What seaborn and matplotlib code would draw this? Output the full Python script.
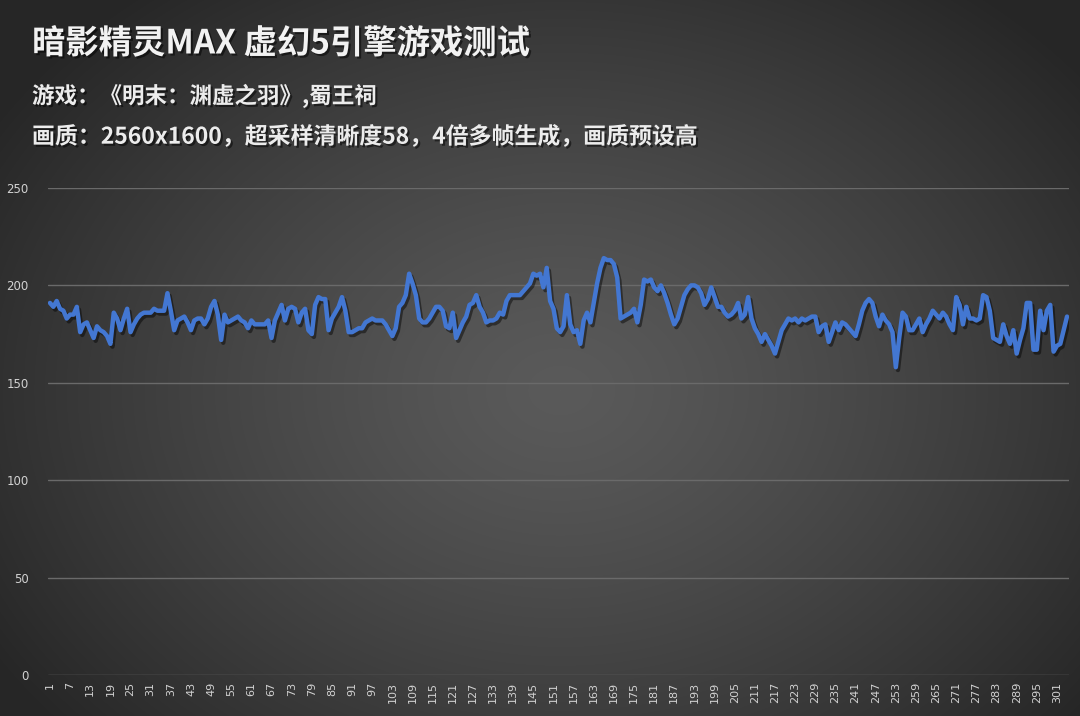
import numpy as np
import pandas as pd
import matplotlib
matplotlib.use("Agg")
import matplotlib.pyplot as plt
import matplotlib.patheffects as pe
import seaborn as sns

title = "暗影精灵MAX 虚幻5引擎游戏测试"
subtitle1 = "游戏：《明末：渊虚之羽》,蜀王祠"
subtitle2 = "画质：2560x1600，超采样清晰度58，4倍多帧生成，画质预设高"

fps_1_50 = [191, 189, 192, 188, 187, 183, 185, 185, 189, 176,
            180, 181, 177, 173, 179, 177, 176, 174, 170, 186,
            183, 177, 183, 188, 176, 180, 183, 185, 186, 186,
            186, 188, 187, 187, 187, 196, 187, 177, 182, 183,
            184, 181, 177, 182, 183, 183, 180, 183, 189, 192]
fps_51_100 = [185, 172, 185, 181, 182, 183, 184, 182, 181, 178,
              182, 180, 180, 180, 180, 182, 173, 182, 186, 190,
              182, 188, 189, 188, 181, 186, 188, 177, 175, 190,
              194, 193, 193, 177, 183, 186, 189, 194, 187, 176,
              176, 177, 178, 178, 181, 182, 183, 182, 182, 182]
fps_101_150 = [180, 177, 174, 178, 189, 191, 195, 206, 201, 195,
               183, 181, 181, 183, 186, 189, 189, 187, 179, 178,
               186, 173, 177, 181, 184, 190, 191, 195, 189, 186,
               181, 182, 182, 183, 186, 185, 192, 195, 195, 195,
               195, 197, 199, 201, 206, 205, 206, 199, 209, 192]
fps_151_200 = [188, 178, 176, 179, 195, 180, 176, 177, 170, 182,
               186, 181, 191, 201, 209, 214, 213, 213, 211, 204,
               183, 184, 185, 186, 188, 181, 190, 203, 202, 203,
               199, 197, 200, 196, 191, 185, 180, 183, 189, 195,
               198, 200, 200, 199, 196, 190, 193, 199, 194, 189]
fps_201_250 = [189, 186, 184, 185, 187, 191, 183, 185, 194, 183,
               178, 175, 171, 175, 172, 169, 165, 171, 177, 180,
               183, 182, 183, 181, 183, 182, 183, 184, 184, 176,
               179, 180, 171, 176, 181, 177, 181, 180, 178, 176,
               174, 180, 187, 191, 193, 191, 184, 179, 185, 182]
fps_251_304 = [180, 176, 158, 173, 186, 184, 177, 177, 180, 183,
               176, 180, 183, 187, 185, 183, 186, 184, 180, 177,
               194, 190, 180, 189, 183, 183, 182, 183, 195, 194,
               187, 173, 172, 171, 180, 174, 170, 177, 165, 172,
               178, 191, 191, 167, 167, 187, 177, 187, 190, 166,
               169, 170, 177, 184]

fps = fps_1_50 + fps_51_100 + fps_101_150 + fps_151_200 + fps_201_250 + fps_251_304
frames = list(range(1, len(fps) + 1))
y_ticks = [0, 50, 100, 150, 200, 250]
x_tick_labels = frames[::6]

df = pd.DataFrame({"frame": frames, "fps": fps})
df["pos"] = df["frame"] - 1

sns.set_theme(style="dark")
plt.rcParams["font.family"] = ["Noto Sans CJK SC", "DejaVu Sans"]

W, H = 1080, 716
fig = plt.figure(figsize=(W / 100, H / 100), dpi=100)

# radial background gradient
bg = fig.add_axes([0, 0, 1, 1], zorder=-10)
yy, xx = np.mgrid[0:H, 0:W]
cx, cy = 560, 390
r = np.sqrt(((xx - cx) / (W * 0.62)) ** 2 + ((yy - cy) / (H * 0.72)) ** 2)
r = np.clip(r, 0, 1)
light, dark = 0x5a / 255, 0x26 / 255
val = light - (light - dark) * r ** 1.3
img = np.dstack([val, val, val])
bg.imshow(img, aspect="auto", extent=[0, 1, 0, 1], origin="upper")
bg.set_axis_off()

ax = fig.add_axes([48.3 / W, 1 - 675 / H, 1020.4 / W, (675 - 188) / H])
ax.set_facecolor("none")

sns.lineplot(data=df, x="pos", y="fps", ax=ax, color="#4377d2", linewidth=3.2,
             path_effects=[pe.SimpleLineShadow(offset=(1.5, -2), shadow_color="black", alpha=0.45),
                           pe.Normal()])

ax.set_xlim(-0.5, len(fps) - 0.5)
ax.set_ylim(0, 250)
ax.set_yticks(y_ticks)
ax.set_yticklabels([str(v) for v in y_ticks])
ax.set_xticks([f - 1 for f in x_tick_labels])
ax.set_xticklabels([str(v) for v in x_tick_labels], rotation=90)
ax.tick_params(axis="y", colors="#d2d2d2", labelsize=8.5, length=0, pad=14)
ax.tick_params(axis="x", colors="#d2d2d2", labelsize=8, length=0, pad=5)
for lbl in ax.get_xticklabels() + ax.get_yticklabels():
    lbl.set_fontfamily(["DejaVu Sans"])
ax.set_xlabel("")
ax.set_ylabel("")
ax.grid(axis="y", color="#6a6a6a", linewidth=1.0)
ax.grid(axis="x", visible=False)
for s in ax.spines.values():
    s.set_visible(False)

shadow = [pe.withSimplePatchShadow(offset=(1.5, -1.5), shadow_rgbFace="black", alpha=0.5)]
fig.text(32 / W, 1 - 44 / H, title, fontsize=24, fontweight="bold", color="#f2f2f2",
         va="center", ha="left", path_effects=shadow)
fig.text(32 / W, 1 - 96 / H, subtitle1, fontsize=16.2, fontweight="bold", color="#ececec",
         va="center", ha="left", path_effects=shadow)
fig.text(32 / W, 1 - 137 / H, subtitle2, fontsize=16.5, fontweight="bold", color="#ececec",
         va="center", ha="left", path_effects=shadow)

fig.savefig("out.png", dpi=100)
